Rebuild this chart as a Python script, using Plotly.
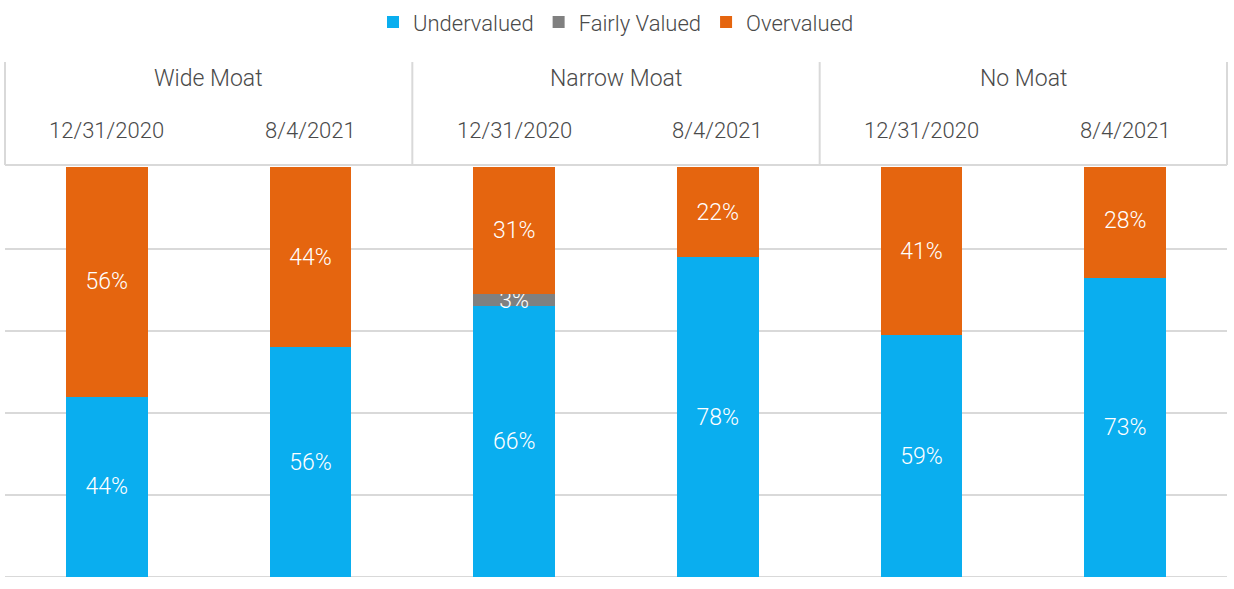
import plotly.graph_objects as go

groups = ["Wide Moat", "Narrow Moat", "No Moat"]
dates = ["12/31/2020", "8/4/2021", "12/31/2020", "8/4/2021", "12/31/2020", "8/4/2021"]
undervalued = [44, 56, 66, 78, 59, 73]
fairly_valued = [0, 0, 3, 0, 0, 0]
overvalued = [56, 44, 31, 22, 41, 28]

FONT = "Roboto, sans-serif"
TXT = "#4a4a4a"
GRID = "#d9d9d9"

xs = list(range(len(dates)))

def labels(vals):
    return [f"{v}%" if v > 0 else "" for v in vals]

fig = go.Figure()
series = [
    ("Undervalued", undervalued, "#0AAEEF"),
    ("Fairly Valued", fairly_valued, "#808080"),
    ("Overvalued", overvalued, "#E5650F"),
]
for name, vals, col in series:
    fig.add_trace(go.Bar(
        x=xs, y=[v / 100 for v in vals], name=name,
        marker=dict(color=col, line=dict(width=0)),
        width=0.4,
        text=labels(vals), textposition="inside", insidetextanchor="middle",
        constraintext="none", textangle=0,
        textfont=dict(color="white", size=23, family=FONT, weight=300),
        hoverinfo="skip",
    ))

fig.update_layout(
    barmode="stack",
    width=1234, height=589,
    margin=dict(l=5, r=7, t=167, b=12),
    paper_bgcolor="white", plot_bgcolor="white",
    font=dict(family=FONT, color=TXT, size=22, weight=300),
    showlegend=True,
    legend=dict(orientation="h", x=0.5, xanchor="center", y=0.998, yref="container",
                yanchor="top", font=dict(size=22, color=TXT, family=FONT, weight=300),
                itemsizing="constant", traceorder="normal"),
    xaxis=dict(range=[-0.5, 5.5], showticklabels=False, showgrid=False,
               zeroline=False, ticks=""),
    yaxis=dict(range=[0, 1], dtick=0.2, showticklabels=False, showgrid=True,
               gridcolor=GRID, gridwidth=2, zeroline=False, ticks="",
               showline=False),
)

# baseline
fig.add_shape(type="line", xref="paper", yref="y", x0=0, x1=1, y0=0, y1=0,
              line=dict(color=GRID, width=2), layer="below")

# header box lines
ytop = 1.256
ybot = 1.005
line_style = dict(color=GRID, width=2)
fig.add_shape(type="line", xref="paper", yref="paper", x0=0, x1=1, y0=ybot, y1=ybot, line=line_style)
fig.add_shape(type="line", xref="paper", yref="paper", x0=0, x1=0, y0=ybot, y1=ytop, line=line_style)
fig.add_shape(type="line", xref="paper", yref="paper", x0=1, x1=1, y0=ybot, y1=ytop, line=line_style)
for xd in [1.5, 3.5]:
    fig.add_shape(type="line", xref="x", yref="paper", x0=xd, x1=xd, y0=ybot, y1=ytop, line=line_style)

for i, g in enumerate(groups):
    fig.add_annotation(x=2 * i + 0.5, y=1.215, xref="x", yref="paper", text=g,
                       showarrow=False, font=dict(size=23, color=TXT, family=FONT, weight=300),
                       yanchor="middle")
for i, d in enumerate(dates):
    fig.add_annotation(x=i, y=1.09, xref="x", yref="paper", text=d,
                       showarrow=False, font=dict(size=22, color=TXT, family=FONT, weight=300),
                       yanchor="middle")

fig.write_html("out.html", config={"displayModeBar": False},
               post_script="document.body.style.margin='0';document.body.style.overflow='hidden';")
